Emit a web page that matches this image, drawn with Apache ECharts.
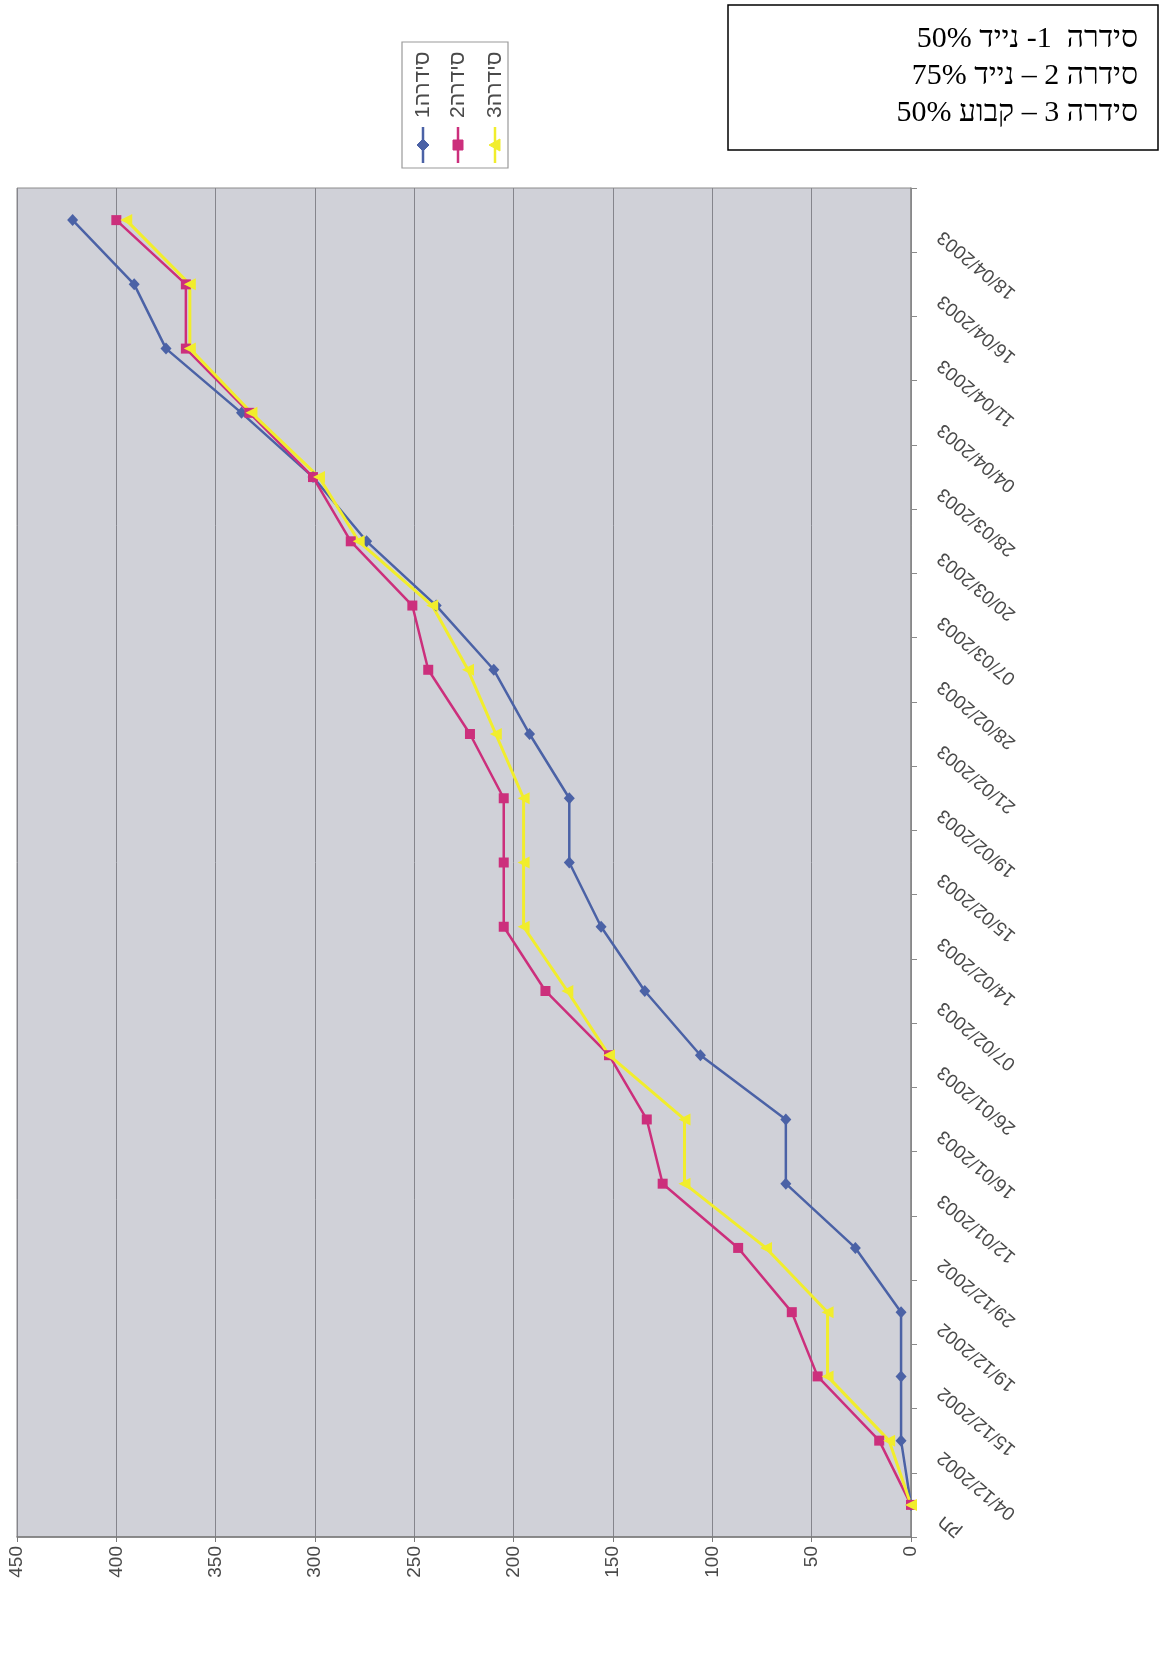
<!DOCTYPE html>
<html>
<head>
<meta charset="utf-8">
<script src="https://cdn.jsdelivr.net/npm/echarts@6/dist/echarts.min.js"></script>
<style>
  html, body { margin: 0; padding: 0; background: #ffffff; }
  #chart { width: 1164px; height: 1664px; }
</style>
</head>
<body>
<div id="chart"></div>
<script>
// Categories run from the bottom of the page upward (dates of measurement)
const categories = ['תק', '04/12/2002', '15/12/2002', '19/12/2002', '29/12/2002', '12/01/2003',
  '16/01/2003', '26/01/2003', '07/02/2003', '14/02/2003', '15/02/2003', '19/02/2003',
  '21/02/2003', '28/02/2003', '07/03/2003', '20/03/2003', '28/03/2003', '04/04/2003',
  '11/04/2003', '16/04/2003', '18/04/2003'];

const seriesNames = ['סידרה1', 'סידרה2', 'סידרה3'];

const series1 = [0, 5, 5, 5, 28, 63, 63, 106, 134, 156, 172, 172, 192, 210, 239, 274, 301, 337, 375, 391, 422];
const series2 = [0, 16, 47, 60, 87, 125, 133, 152, 184, 205, 205, 205, 222, 243, 251, 282, 301, 333, 365, 365, 400];
const series3 = [0, 11, 42, 42, 73, 114, 114, 152, 173, 195, 195, 195, 209, 223, 241, 278, 298, 332, 363, 363, 395];

const noteLines = ['סידרה  1- נייד 50%', 'סידרה 2 – נייד 75%', 'סידרה 3 – קבוע 50%'];

const colors = ['#4b62a6', '#cc2f7c', '#f1ed2c'];

const chart = echarts.init(document.getElementById('chart'), null, { renderer: 'canvas' });

// RTL embedding so the Hebrew notes lay out right-to-left
const rtl = s => '\u202B' + s + '\u202C';

// legend drawn rotated a quarter turn, like the rest of the sheet
function legendGroup() {
  const rows = [21, 56, 93];
  const children = [{
    type: 'rect',
    shape: { x: 0, y: 0, width: 126, height: 106 },
    style: { fill: '#ffffff', stroke: '#9a9a9a', lineWidth: 1.2 }
  }];
  rows.forEach((ly, k) => {
    children.push({
      type: 'line',
      shape: { x1: 5, y1: ly, x2: 41, y2: ly },
      style: { stroke: colors[k], lineWidth: 2.5 }
    });
    let key;
    if (k === 0) {
      key = { type: 'polygon', shape: { points: [[23, ly - 6], [29, ly], [23, ly + 6], [17, ly]] } };
    } else if (k === 1) {
      key = { type: 'rect', shape: { x: 18, y: ly - 5, width: 10, height: 10 } };
    } else {
      key = { type: 'polygon', shape: { points: [[23, ly - 6], [29, ly + 5], [17, ly + 5]] } };
    }
    key.style = { fill: colors[k], stroke: colors[k] };
    children.push(key);
    children.push({
      type: 'text',
      style: {
        x: 50, y: ly, text: seriesNames[k], fill: '#4a4a4a',
        font: '21px "Liberation Sans", Arial, sans-serif',
        textAlign: 'left', textVerticalAlign: 'middle'
      }
    });
  });
  return { type: 'group', x: 402, y: 168, rotation: Math.PI / 2, children };
}

const option = {
  backgroundColor: '#ffffff',
  animation: false,
  grid: {
    left: 17, right: 253, top: 188, bottom: 127,
    show: true,
    backgroundColor: '#d0d1d8',
    borderColor: '#8c8c8c',
    borderWidth: 1,
    outerBoundsMode: 'none'
  },
  xAxis: {
    type: 'value',
    position: 'bottom',
    inverse: true,
    min: 0, max: 450, interval: 50,
    axisLine: { show: true, lineStyle: { color: '#7a7a7a', width: 1.5 } },
    axisTick: { show: true, length: 5, lineStyle: { color: '#7a7a7a' } },
    splitLine: { show: true, lineStyle: { color: '#85858c', width: 1 } },
    axisLabel: {
      rotate: 90, margin: 9, fontSize: 19, color: '#4a4a4a',
      fontFamily: '"Liberation Sans", Arial, sans-serif'
    }
  },
  yAxis: {
    type: 'category',
    position: 'right',
    data: categories,
    boundaryGap: true,
    axisLine: { show: true, lineStyle: { color: '#8a8a8a', width: 1.5 } },
    axisTick: { show: true, length: 6, interval: 0, lineStyle: { color: '#8a8a8a' } },
    splitLine: { show: false },
    axisLabel: {
      interval: 0, rotate: 140, align: 'right', verticalAlign: 'bottom',
      margin: 27, padding: [0, 11, 0, 0], fontSize: 19, color: '#4a4a4a',
      fontFamily: '"Liberation Sans", Arial, sans-serif'
    }
  },
  series: [
    {
      name: seriesNames[0], type: 'line', data: series1,
      symbol: 'diamond', symbolSize: [11, 12],
      itemStyle: { color: colors[0] },
      lineStyle: { color: colors[0], width: 2.5 }
    },
    {
      name: seriesNames[1], type: 'line', data: series2,
      symbol: 'rect', symbolSize: 10,
      itemStyle: { color: colors[1] },
      lineStyle: { color: colors[1], width: 2.5 }
    },
    {
      name: seriesNames[2], type: 'line', data: series3,
      symbol: 'triangle', symbolSize: 12, symbolRotate: 90,
      itemStyle: { color: colors[2] },
      lineStyle: { color: colors[2], width: 3 }
    }
  ],
  graphic: [
    {
      type: 'rect',
      shape: { x: 728, y: 5, width: 430, height: 145 },
      style: { fill: '#ffffff', stroke: '#000000', lineWidth: 1.5 }
    },
    ...noteLines.map((t, i) => ({
      type: 'text',
      style: {
        x: 1138, y: 39 + i * 37, text: rtl(t), fill: '#000000',
        font: '30px "Liberation Serif", "Times New Roman", serif',
        textAlign: 'right', textVerticalAlign: 'middle'
      }
    })),
    legendGroup()
  ]
};

chart.setOption(option);
</script>
</body>
</html>
